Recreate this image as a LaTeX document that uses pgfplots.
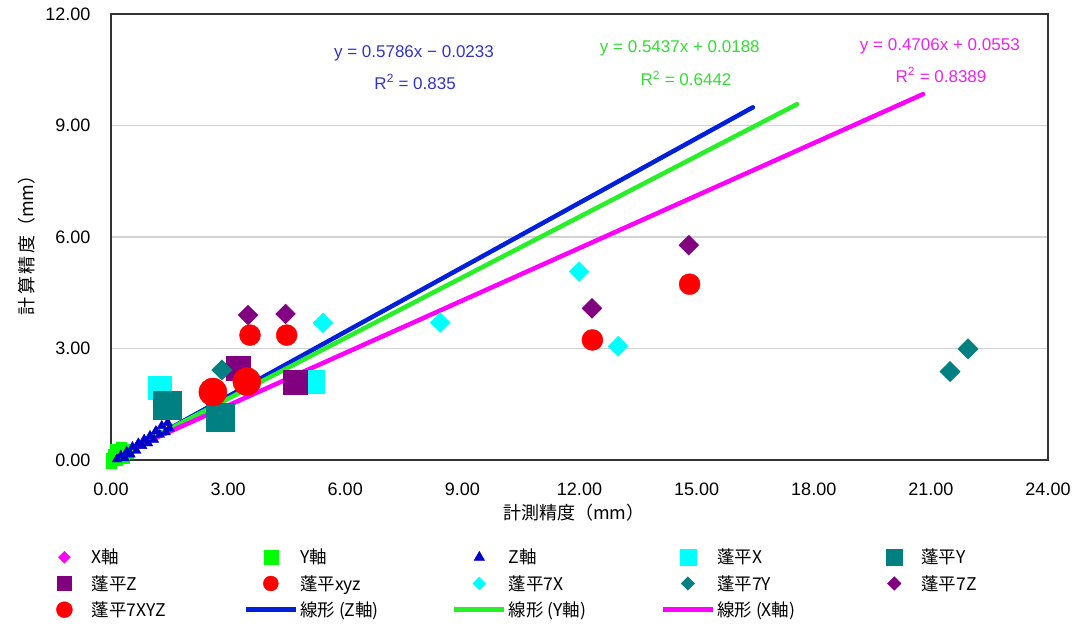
\documentclass[border=0pt]{standalone}
\usepackage{pgfplots}
\pgfplotsset{compat=1.18}
\usepackage{fontspec}
\setmainfont{Liberation Sans}
\newfontfamily\jp{Noto Sans CJK JP}
\definecolor{cX}{RGB}{255,0,255}
\definecolor{cY}{RGB}{0,255,0}
\definecolor{cZ}{RGB}{0,0,204}
\definecolor{cyanc}{RGB}{0,255,255}
\definecolor{tealc}{RGB}{0,128,128}
\definecolor{purp}{RGB}{128,0,128}
\definecolor{redc}{RGB}{255,0,0}
\definecolor{lineZ}{RGB}{0,32,220}
\definecolor{lineY}{RGB}{40,240,40}
\definecolor{lineX}{RGB}{255,0,255}
\definecolor{eqZ}{RGB}{51,51,204}
\definecolor{eqY}{RGB}{51,221,51}
\definecolor{eqX}{RGB}{238,34,238}
\pgfplotsset{
 legmark/.style={legend image code/.code={\path (0pt,-4pt) (50pt,4pt);\draw[mark repeat=2,mark phase=2,##1] plot coordinates {(0pt,0pt) (25pt,0pt) (50pt,0pt)};}},
 leglin/.style={legend image code/.code={\path (0pt,-4pt) (50pt,4pt);\draw[##1] (0pt,0pt) -- (50pt,0pt);}},
}
\newcommand{\lgt}[1]{\makebox[150pt][l]{#1}}
\begin{document}
\begin{tikzpicture}
\useasboundingbox (-111pt,-167pt) rectangle (965pt,460pt);
\begin{axis}[
 at={(0pt,0pt)}, anchor=south west,
 scale only axis, width=937pt, height=446pt,
 xmin=0, xmax=24, ymin=0, ymax=12,
 xtick={0,3,...,24}, ytick={0,3,...,12},
 ymajorgrids, major grid style={gray!35, line width=1.2pt},
 axis line style={line width=1.6pt, black!80},
 major tick length=0pt,
 tick label style={font=\fontsize{18}{20}\selectfont},
 /pgf/number format/fixed, /pgf/number format/fixed zerofill,
 /pgf/number format/precision=2, /pgf/number format/assume math mode=true,
 yticklabel style={xshift=-17pt},
 xticklabel style={yshift=-19pt},
 xlabel={計測精度（mm）}, ylabel={計\hspace{2.5pt}算\hspace{2.5pt}精\hspace{2.5pt}度（mm）},
 label style={font=\jp\fontsize{18}{20}\selectfont},
 xlabel style={at={(axis description cs:0.494,-0.119)}, anchor=center},
 ylabel style={at={(axis description cs:-0.0896,0.491)}, anchor=center},
 clip=false,
 legend columns=5,
 legend style={at={(0,0)}, anchor=north west, xshift=-75pt, yshift=-85pt, draw=none, fill=none,
   font=\jp\fontsize{17.5}{20}\selectfont, row sep=6pt,
   /tikz/every even column/.append style={column sep=0pt}},
 legend cell align=left,
]
% X axis
\addplot[only marks, mark=square*, mark options={rotate=45}, mark size=3.5pt, color=cX, forget plot]
 coordinates {(0.1,0.1)(0.2,0.2)(0.15,0.05)};
% Y axis
\addplot[only marks, mark=square*, mark size=5pt, color=cY, forget plot]
 coordinates {(0.0,-0.08)(0.05,0.15)(0.1,0.3)(0.15,0.0)(0.2,0.1)(0.3,0.25)(0.35,0.05)(0.45,0.18)(0.25,0.35)(0.4,0.3)(0.0,0.05)};
% Z axis
\addplot[only marks, mark=triangle*, mark size=5.5pt, color=cZ, forget plot]
 coordinates {(0.15,0.02)(0.25,0.12)(0.35,0.05)(0.4,0.22)(0.5,0.15)(0.55,0.35)(0.65,0.25)(0.7,0.45)(0.8,0.38)(0.85,0.55)(0.95,0.45)(1.0,0.65)(1.1,0.55)(1.15,0.78)(1.25,0.68)(1.3,0.92)(1.4,0.75)(1.45,1.0)(1.5,0.85)};
% 蓬平X
\addplot[only marks, mark=square*, mark size=11.5pt, color=cyanc, forget plot]
 coordinates {(1.26,1.94)(5.17,2.10)};
% 蓬平Y
\addplot[only marks, mark=square*, mark size=14pt, color=tealc, forget plot]
 coordinates {(1.45,1.48)(2.79,1.16)};
% 蓬平Z
\addplot[only marks, mark=square*, mark size=12pt, color=purp, forget plot]
 coordinates {(3.25,2.48)(4.71,2.10)};
% 蓬平xyz
\addplot[only marks, mark=*, mark size=14pt, color=redc, forget plot]
 coordinates {(2.61,1.83)(3.48,2.11)};
% 蓬平7X
\addplot[only marks, mark=square*, mark options={rotate=45}, mark size=7pt, color=cyanc, forget plot]
 coordinates {(5.43,3.69)(8.43,3.70)(11.99,5.07)(12.99,3.06)};
% 蓬平7Y
\addplot[only marks, mark=square*, mark options={rotate=45}, mark size=7.2pt, color=tealc, forget plot]
 coordinates {(2.84,2.42)(21.49,2.38)(21.95,2.99)};
% 蓬平7Z
\addplot[only marks, mark=square*, mark options={rotate=45}, mark size=7pt, color=purp, forget plot]
 coordinates {(3.51,3.90)(4.47,3.93)(12.32,4.08)(14.80,5.78)};
% 蓬平7XYZ
\addplot[only marks, mark=*, mark size=10.5pt, color=redc, forget plot]
 coordinates {(3.56,3.36)(4.50,3.36)(12.33,3.23)(14.82,4.73)};
% trend lines
\addplot[lineZ, line width=4.5pt, line cap=round, forget plot] coordinates {(0.1,0.0346)(16.44,9.489)};
\addplot[lineY, line width=4.5pt, line cap=round, forget plot] coordinates {(0.1,0.0732)(17.57,9.572)};
\addplot[lineX, line width=4.5pt, line cap=round, forget plot] coordinates {(0.1,0.1024)(20.8,9.844)};
% equations
\node[eqZ, font=\fontsize{17}{20}\selectfont] at (axis cs:7.76,10.95) {y = 0.5786x − 0.0233};
\node[eqZ, font=\fontsize{17}{20}\selectfont] at (axis cs:7.79,10.17) {R\textsuperscript{2} = 0.835};
\node[eqY, font=\fontsize{17}{20}\selectfont] at (axis cs:14.57,11.08) {y = 0.5437x + 0.0188};
\node[eqY, font=\fontsize{17}{20}\selectfont] at (axis cs:14.73,10.27) {R\textsuperscript{2} = 0.6442};
\node[eqX, font=\fontsize{17}{20}\selectfont] at (axis cs:21.23,11.14) {y = 0.4706x + 0.0553};
\node[eqX, font=\fontsize{17}{20}\selectfont] at (axis cs:21.26,10.36) {R\textsuperscript{2} = 0.8389};
% legend
\addlegendimage{only marks, mark=square*, mark options={rotate=45}, mark size=4.2pt, color=cX, legmark}
\addlegendentry{\lgt{X軸}}
\addlegendimage{only marks, mark=square*, mark size=7pt, color=cY, legmark}
\addlegendentry{\lgt{Y軸}}
\addlegendimage{only marks, mark=triangle*, mark size=6pt, color=cZ, legmark}
\addlegendentry{\lgt{Z軸}}
\addlegendimage{only marks, mark=square*, mark size=8pt, color=cyanc, legmark}
\addlegendentry{\lgt{蓬平X}}
\addlegendimage{only marks, mark=square*, mark size=8pt, color=tealc, legmark}
\addlegendentry{\lgt{蓬平Y}}
\addlegendimage{only marks, mark=square*, mark size=7pt, color=purp, legmark}
\addlegendentry{\lgt{蓬平Z}}
\addlegendimage{only marks, mark=*, mark size=7.5pt, color=redc, legmark}
\addlegendentry{\lgt{蓬平xyz}}
\addlegendimage{only marks, mark=square*, mark options={rotate=45}, mark size=4.5pt, color=cyanc, legmark}
\addlegendentry{\lgt{蓬平7X}}
\addlegendimage{only marks, mark=square*, mark options={rotate=45}, mark size=4.8pt, color=tealc, legmark}
\addlegendentry{\lgt{蓬平7Y}}
\addlegendimage{only marks, mark=square*, mark options={rotate=45}, mark size=4.8pt, color=purp, legmark}
\addlegendentry{\lgt{蓬平7Z}}
\addlegendimage{only marks, mark=*, mark size=8pt, color=redc, legmark}
\addlegendentry{\lgt{蓬平7XYZ}}
\addlegendimage{lineZ, line width=4.5pt, leglin}
\addlegendentry{\lgt{線形 (Z軸)}}
\addlegendimage{lineY, line width=4.5pt, leglin}
\addlegendentry{\lgt{線形 (Y軸)}}
\addlegendimage{lineX, line width=4.5pt, leglin}
\addlegendentry{\lgt{線形 (X軸)}}
\end{axis}
\end{tikzpicture}
\end{document}
